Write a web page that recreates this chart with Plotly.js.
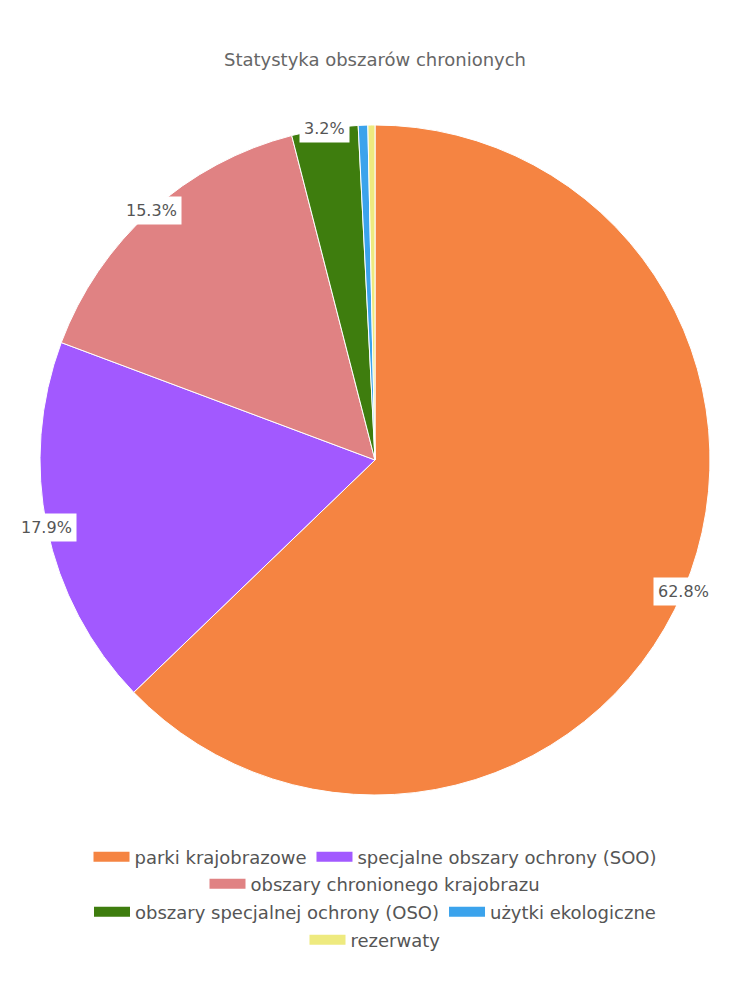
<!DOCTYPE html>
<html>
<head>
<meta charset="utf-8">
<script src="https://cdn.plot.ly/plotly-3.0.1.min.js"></script>
<style>html,body{margin:0;padding:0;background:#fff;}</style>
</head>
<body>
<div id="chart" style="width:750px;height:1000px;"></div>
<script>
const categories = [
  "parki krajobrazowe",
  "specjalne obszary ochrony (SOO)",
  "obszary chronionego krajobrazu",
  "obszary specjalnej ochrony (OSO)",
  "użytki ekologiczne",
  "rezerwaty"
];
const shares = [62.8, 17.9, 15.3, 3.2, 0.46, 0.34];
const colors = ["#F58442", "#A259FF", "#E08283", "#3E7D0E", "#3BA3EC", "#EEEA7F"];
const legendRows = ["legend", "legend", "legend2", "legend3", "legend3", "legend4"];

const W = 750, H = 1000;
const FONT = "DejaVu Sans, Open Sans, sans-serif";
const TXT = "#555";
const domX = [40 / W, 710 / W];
const domY = [1 - 795 / H, 1 - 125 / H];

const pie = {
  type: "pie",
  labels: categories,
  values: shares,
  sort: false,
  direction: "clockwise",
  rotation: 0,
  marker: { colors: colors, line: { color: "#fff", width: 1 } },
  textinfo: "none",
  hoverinfo: "label+percent",
  showlegend: false,
  domain: { x: domX, y: domY }
};

// legend entries (one per category) placed in centered rows
const legendTraces = categories.map((c, i) => ({
  type: "scatter",
  x: [null], y: [null],
  mode: "lines",
  name: c,
  line: { color: colors[i], width: 14 },
  legend: legendRows[i],
  hoverinfo: "skip",
  showlegend: true
}));

// percentage labels on the rim at mid-angle of each slice
const total = shares.reduce((a, b) => a + b, 0);
const cx = (domX[0] + domX[1]) / 2 * W;
const cy = (1 - (domY[0] + domY[1]) / 2) * H;
const R = Math.min((domX[1] - domX[0]) * W, (domY[1] - domY[0]) * H) / 2;
let cum = 0;
const annotations = [];
shares.forEach((v, i) => {
  const frac = v / total;
  const mid = (cum + frac / 2) * 2 * Math.PI;
  cum += frac;
  if (frac * 100 < 1) return;
  const px = cx + R * Math.sin(mid);
  const py = cy - R * Math.cos(mid);
  annotations.push({
    x: px / W, y: 1 - py / H, xref: "paper", yref: "paper",
    xanchor: "center", yanchor: "middle",
    text: (frac * 100).toFixed(1) + "%",
    showarrow: false,
    bgcolor: "#fff",
    borderpad: 4,
    font: { family: FONT, size: 16, color: TXT }
  });
});

const legendBase = {
  orientation: "h", x: 0.5, xanchor: "center", yanchor: "middle",
  bgcolor: "rgba(0,0,0,0)", font: { family: FONT, size: 18, color: TXT },
  itemwidth: 36,
  itemclick: false, itemdoubleclick: false
};

const layout = {
  width: W, height: H,
  margin: { l: 0, r: 0, t: 0, b: 0 },
  paper_bgcolor: "#fff",
  plot_bgcolor: "rgba(0,0,0,0)",
  font: { family: FONT, color: TXT },
  title: {
    text: "Statystyka obszarów chronionych",
    x: 0.5, xanchor: "center", y: 1 - 60 / H, yanchor: "middle",
    font: { family: FONT, size: 18, color: "#666" }
  },
  xaxis: { visible: false, domain: [0, 0.01] },
  yaxis: { visible: false, domain: [0, 0.01] },
  legend: Object.assign({}, legendBase, { y: 1 - 857 / H }),
  legend2: Object.assign({}, legendBase, { y: 1 - 884 / H }),
  legend3: Object.assign({}, legendBase, { y: 1 - 912 / H }),
  legend4: Object.assign({}, legendBase, { y: 1 - 940 / H }),
  annotations: annotations
};

Plotly.newPlot("chart", [pie].concat(legendTraces), layout, { displayModeBar: false, responsive: false });
</script>
</body>
</html>
